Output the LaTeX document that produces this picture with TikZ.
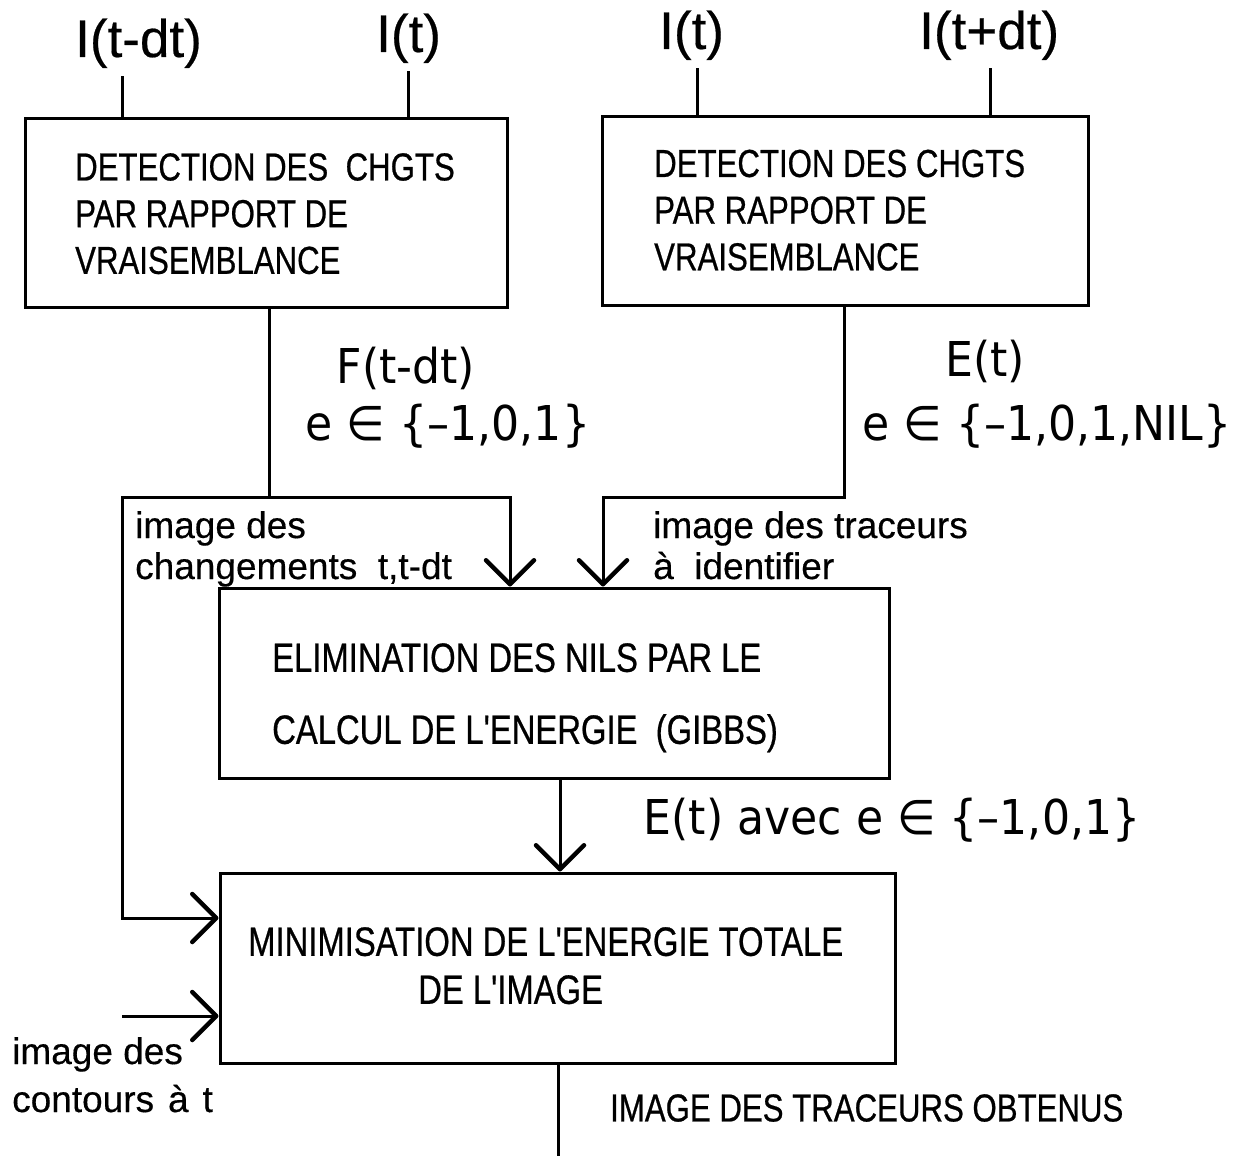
\documentclass[tikz,border=0pt]{standalone}
\usepackage{fontspec}
\setmainfont{Liberation Sans}
\newfontfamily\condfont[FakeStretch=0.8,FakeBold=0.6]{Liberation Sans}
\newfontfamily\labfont[FakeBold=0.4]{Liberation Sans}
\newfontfamily\thinfont[FakeStretch=0.92]{DejaVu Sans}
\usetikzlibrary{arrows.meta}
\begin{document}
\begin{tikzpicture}[x=1pt,y=-1pt,
  box/.style={draw, line width=3pt, inner sep=0pt},
  boxtxt/.style={inner sep=0pt, anchor=north west, align=left, font=\condfont\fontsize{39}{46.7}\selectfont},
  inlab/.style={inner sep=0pt, anchor=base west, font=\labfont\fontsize{53}{60}\selectfont},
  lowlab/.style={inner sep=0pt, anchor=north west, align=left, font=\labfont\fontsize{37}{41}\selectfont},
  setlab/.style={inner sep=0pt, font=\thinfont\fontsize{48}{56}\selectfont},
  conn/.style={line width=3pt},
  arr/.style={conn, -{Straight Barb[length=24pt,width=48pt,round,line width'=4.5pt]}}]
\useasboundingbox (0,0) rectangle (1248,1156);

% boxes
\node[box, minimum width=482pt, minimum height=189pt] (b1) at (266,212.5) {};
\node[box, minimum width=486pt, minimum height=189pt] (b2) at (845,210.5) {};
\node[box, minimum width=670pt, minimum height=190pt] (b3) at (554,683) {};
\node[box, minimum width=675pt, minimum height=190pt] (b4) at (557.5,968) {};

% box texts
\node[boxtxt] (t1) at (75,153) {DETECTION DES\ \ CHGTS\\PAR RAPPORT DE\\VRAISEMBLANCE};
\node[boxtxt] (t2) at (654,149.5) {DETECTION DES CHGTS\\PAR RAPPORT DE\\VRAISEMBLANCE};
\node[boxtxt, font=\condfont\fontsize{41}{72}\selectfont] (t3) at (272,643) {ELIMINATION DES NILS PAR LE\\CALCUL DE L'ENERGIE\ \ (GIBBS)};
\node[boxtxt, font=\condfont\fontsize{41}{48}\selectfont] (t4) at (248,927) {MINIMISATION DE L'ENERGIE TOTALE\\\hspace*{170pt}DE L'IMAGE};
\node[boxtxt] (res) at (610,1094) {IMAGE DES TRACEURS OBTENUS};

% input labels
\node[inlab] (l1) at (75,57) {I(t-dt)};
\node[inlab] (l2) at (376,52) {I(t)};
\node[inlab] (l3) at (659,49) {I(t)};
\node[inlab] (l4) at (919,49) {I(t+dt)};

\coordinate (c1) at (122,0);
\coordinate (c2) at (408,0);
\coordinate (c3) at (697,0);
\coordinate (c4) at (990,0);
\draw[conn] ([yshift=-8pt]l1.south -| c1) -- (c1 |- b1.north);
\draw[conn] ([yshift=-8pt]l2.south -| c2) -- (c2 |- b1.north);
\draw[conn] ([yshift=-8pt]l3.south -| c3) -- (c3 |- b2.north);
\draw[conn] ([yshift=-8pt]l4.south -| c4) -- (c4 |- b2.north);

% flow labels
\node[setlab] (F) at (406,368) {F(t-dt)};
\node[setlab] (Fs) at (448,426) {e ∈ \{–1,0,1\}};
\node[setlab] (E) at (985,361) {E(t)};
\node[setlab] (Es) at (1047,426) {e ∈ \{–1,0,1,NIL\}};
\node[setlab] (E2) at (892,820) {E(t) avec e ∈ \{–1,0,1\}};

\node[lowlab] (L1) at (135,511) {image des\\changements\ \ t,t-dt};
\node[lowlab] (L2) at (653,511) {image des traceurs\\à\ \ identifier};
\node[lowlab, font=\labfont\fontsize{37}{48}\selectfont] (L3) at (12,1037) {image des\\contours\hspace{14pt}à\hspace{14pt}t};

% routing
\coordinate (jF) at (269,497);
\coordinate (jL) at (122,497);
\coordinate (jR) at (510,497);
\coordinate (jL2) at (122,918);
\coordinate (jE) at (844,497);
\coordinate (jE2) at (603,497);
\coordinate (x34) at (560,0);
\coordinate (cin) at (122,1016);
\coordinate (xout) at (558,1156);

\draw[conn] (b1.south -| jF) -- (jF);
\draw[arr] (jF) -- (jR) -- (jR |- b3.north);
\draw[arr] (jF) -- (jL) -- (jL2) -- (jL2 -| b4.west);
\draw[arr] (b2.south -| jE) -- (jE) -- (jE2) -- (jE2 |- b3.north);
\draw[arr] (b3.south -| x34) -- (b4.north -| x34);
\draw[arr] (cin) -- (cin -| b4.west);
\draw[conn] (b4.south -| xout) -- (xout);
\end{tikzpicture}
\end{document}
